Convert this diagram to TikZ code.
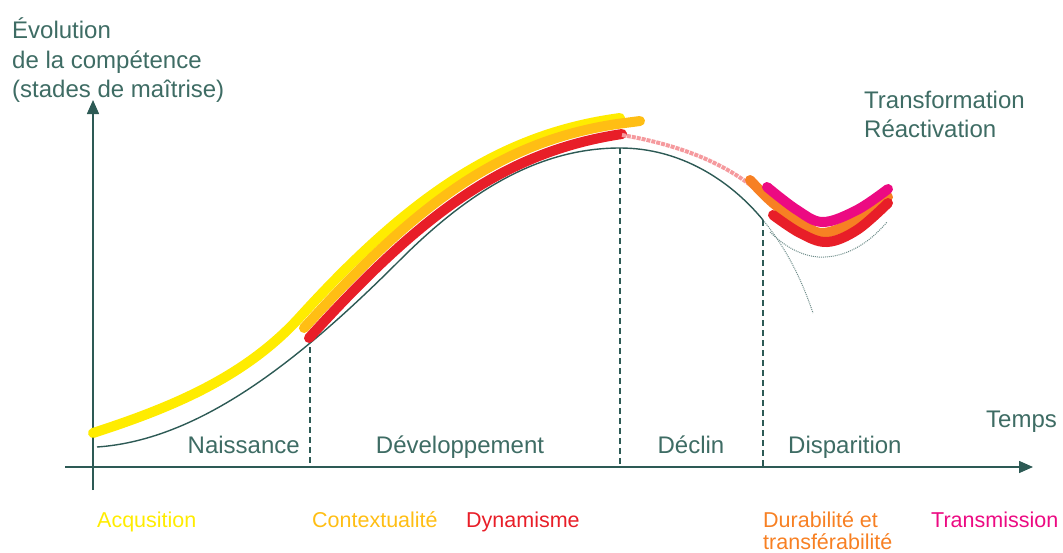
\documentclass[tikz,border=0pt]{standalone}
\usepackage{fontspec}
\setmainfont{Liberation Sans}
\usetikzlibrary{arrows.meta}
\definecolor{texte}{RGB}{62,108,100}
\definecolor{axe}{RGB}{45,90,85}
\definecolor{jaune}{RGB}{255,236,0}
\definecolor{dore}{RGB}{255,190,20}
\definecolor{rouge}{RGB}{232,30,40}
\definecolor{orange1}{RGB}{247,128,35}
\definecolor{rose}{RGB}{236,10,130}
\tikzset{
  lbl/.style = {text=texte, inner sep=0pt, font=\fontsize{24}{29}\selectfont},
  sub/.style = {inner sep=0pt, font=\fontsize{21.5}{26}\selectfont},
  gros/.style = {line width=10pt, line cap=round},
  pointille/.style = {axe, line width=1.3pt, dash pattern=on 6pt off 4pt},
  fleche/.style = {axe, line width=1.5pt, -{Triangle[length=14pt,width=12pt]}},
}

\begin{document}
\begin{tikzpicture}[x=1pt, y=-1pt]
\useasboundingbox (0,0) rectangle (1063,552);

\coordinate (ybas) at (93,490);
\coordinate (yhaut) at (93,100);
\coordinate (xgauche) at (65,467);
\coordinate (xdroite) at (1033,467);
\draw[fleche] (ybas) -- (yhaut);
\draw[fleche] (xgauche) -- (xdroite);

\coordinate (c1) at (310,347);
\coordinate (c2) at (620,148);
\coordinate (c3) at (763,220);
\coordinate (a1) at (310,467);
\coordinate (a2) at (620,467);
\coordinate (a3) at (763,467);

\draw[axe, line width=1.4pt] (97,447) .. controls (200,440) and (300,360) .. (400,260)
  .. controls (470,190) and (540,148) .. (c2)
  .. controls (680,148) and (730,180) .. (c3);
\draw[axe!70, line width=1pt, densely dotted] (c3) .. controls (785,247) and (800,275) .. (813,313);
\draw[axe!70, line width=1pt, densely dotted] (770,232) .. controls (790,252) and (810,258) .. (825,257)
  .. controls (850,256) and (872,240) .. (887,222);

\draw[pointille] (c1) -- (a1);
\draw[pointille] (c2) -- (a2);
\draw[pointille] (c3) -- (a3);

\draw[jaune, gros] (93,433) .. controls (170,408) and (244,378) .. (299,318)
  .. controls (409,197) and (500,134) .. (620,118);
\draw[dore, gros] (304,328) .. controls (414,207) and (497,142) .. (617,124) -- (640,121);
\draw[rouge, gros] (309,338) .. controls (419,217) and (502,152) .. (622,134);
\draw[rouge!45, line width=4pt, densely dotted] (622,135) .. controls (680,145) and (735,165) .. (770,203);
\draw[orange1, gros] plot[smooth, tension=0.6] coordinates {(750,180) (773,203) (800,222) (823,233) (857,220) (888,197)};
\draw[rouge, gros] plot[smooth, tension=0.6] coordinates {(773,215) (800,233) (827,242) (857,230) (888,203)};
\draw[rose, gros] plot[smooth, tension=0.6] coordinates {(767,187) (797,210) (823,222) (857,210) (888,189)};

\node[lbl, anchor=base west] (evol1) at (12,38) {Évolution};
\node[lbl, anchor=base west] (evol2) at (12,68) {de la compétence};
\node[lbl, anchor=base west] (evol3) at (12,97) {(stades de maîtrise)};
\node[lbl, anchor=base west] (transf) at (864,108) {Transformation};
\node[lbl, anchor=base west] (react) at (864,137) {Réactivation};
\node[lbl, anchor=base west] (temps) at (986,427) {Temps};
\node[lbl, anchor=base east] (naiss) at (300,453) {Naissance};
\node[lbl, anchor=base] (devel) at (460,453) {Développement};
\node[lbl, anchor=base] (declin) at (691,453) {Déclin};
\node[lbl, anchor=base west] (dispar) at (788,453) {Disparition};

\node[sub, text=jaune, anchor=base west] (acq) at (97,527) {Acqusition};
\node[sub, text=dore, anchor=base west] (ctx) at (312,527) {Contextualité};
\node[sub, text=rouge, anchor=base west] (dyn) at (466,527) {Dynamisme};
\node[sub, text=orange1, anchor=base west] (dura) at (763,527) {Durabilité et};
\node[sub, text=orange1, anchor=base west] (transfe) at (763,549) {transférabilité};
\node[sub, text=rose, anchor=base west] (transm) at (931,527) {Transmission};
\end{tikzpicture}
\end{document}
